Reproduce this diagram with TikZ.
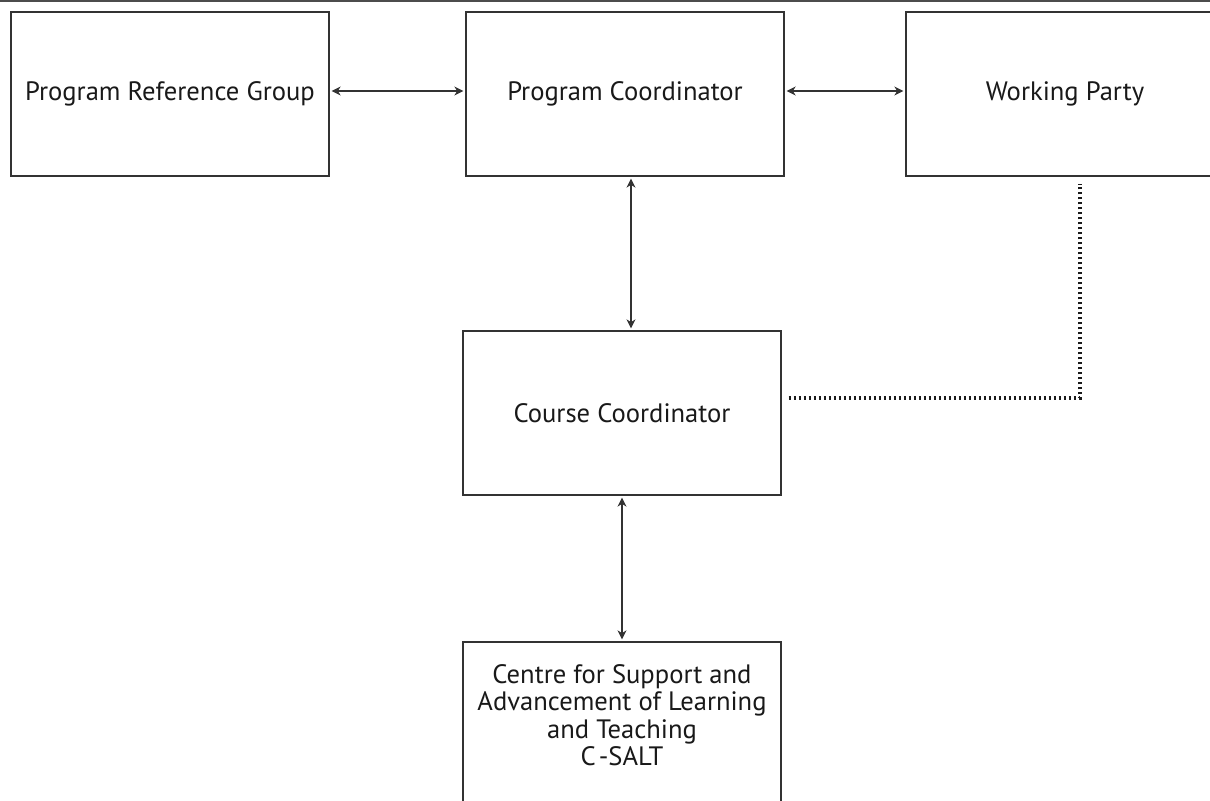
\documentclass[tikz,border=0pt]{standalone}
\usepackage{fontspec}
\setmainfont{PT Sans}
\usetikzlibrary{arrows.meta}

\tikzset{
  unit/.style={draw=black!80, line width=0.65pt, fill=white, minimum width=159pt, minimum height=82pt, inner sep=0pt, align=center, font=\fontsize{13.3}{13.6}\selectfont, text=black!90},
  link/.style={draw=black!80, line width=0.6pt, {Stealth[length=4.5pt,width=4.5pt,inset=1.4pt]}-{Stealth[length=4.5pt,width=4.5pt,inset=1.4pt]}, shorten <=1pt, shorten >=1pt},
  wpline/.style={draw=black!90, line width=1.6pt, dash pattern=on 1.2pt off 1.3pt}
}

\begin{document}
\begin{tikzpicture}[x=0.5pt,y=-0.5pt]
\useasboundingbox (0,0) rectangle (1210,801);
\clip (0,0) rectangle (1210,801);
\draw [black!70, line width=0.8pt] (0,1) -- (1210,1);
% boxes
\node [unit] (prg) at (170,94) {Program Reference Group};
\node [unit] (pc) at (625,94) {Program Coordinator};
\node [unit] (wp) at (1065,94) {Working Party};
\node [unit] (cc) at (622,413) {Course Coordinator};
\node [unit] (csalt) at (622,724) {\begin{tabular}{@{}c@{}}Centre for Support and\\Advancement of Learning\\and Teaching\\C\kern1.5pt-SALT\\[5pt]\end{tabular}};
% links
\draw [link] ([yshift=1.5pt]prg.east) -- ([yshift=1.5pt]pc.west);
\draw [link] ([yshift=1.5pt]pc.east) -- ([yshift=1.5pt]wp.west);
\draw [link] ([xshift=3pt]pc.south) -- ([xshift=3pt]pc.south |- cc.north);
\draw [link] (cc.south) -- (csalt.north);
\coordinate (bend) at (1080,398);
\draw [wpline] ([xshift=3.5pt]cc.east |- bend) -- (bend) -- ([yshift=-3.5pt]bend |- wp.south);
\end{tikzpicture}
\end{document}
